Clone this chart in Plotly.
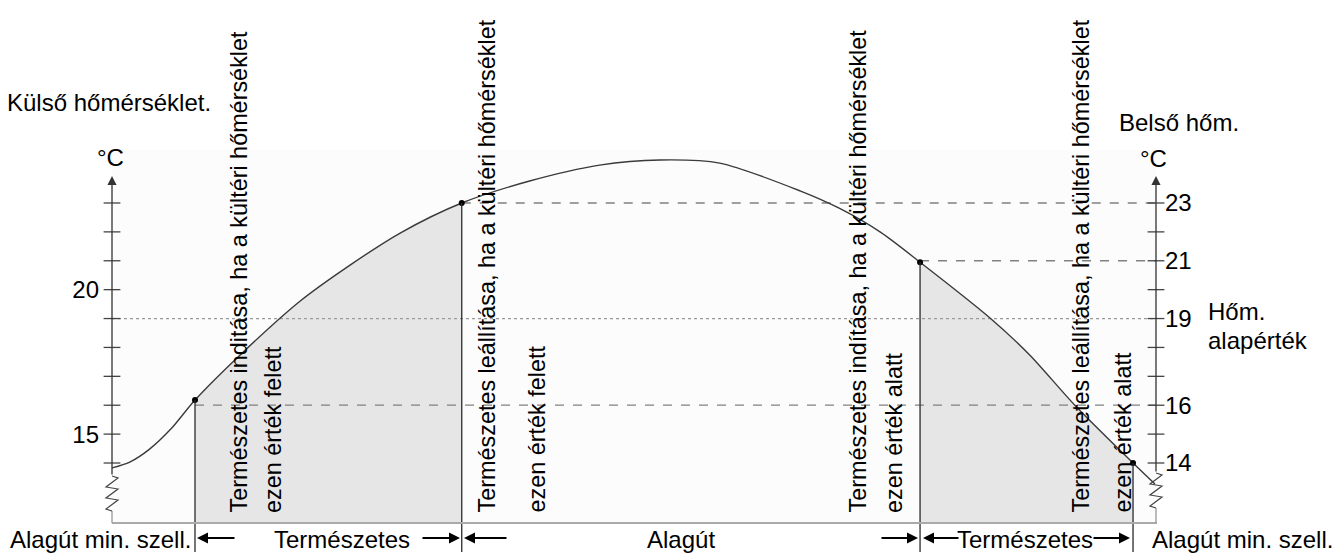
import plotly.graph_objects as go

# ---------------- data ----------------
# time axis is schematic (0..100), temperatures in °C
curve_x = [0.0, 1.7, 3.6, 5.7, 7.95, 12.3, 18.0, 22.8, 27.6, 33.5, 40.0, 46.7, 52.5, 58.2,
           65.9, 69.7, 73.6, 77.4, 84.1, 87.9, 92.2, 97.8, 99.9]
curve_y = [13.83, 14.03, 14.48, 15.2, 16.18, 17.75, 19.6, 20.85, 21.96, 23.0, 23.76, 24.31, 24.49,
           24.38, 23.42, 22.81, 21.99, 20.95, 19.02, 17.74, 16.01, 14.0, 13.27]
switch_idx = [4, 9, 17, 21]          # indices of the switching points on the curve
shade_pairs = [(0, 1), (2, 3)]       # natural ventilation periods (between switch points)
limit_vals = [16, 23, 21]            # dashed threshold lines (start at switch 0, 1, 2)
limit_from = [0, 1, 2]
setpoint = 19
left_ticks = [15, 20]
right_ticks = [14, 16, 19, 21, 23]
minor_ticks = list(range(14, 24))

vtexts = [
    "Természetes inditása, ha a kültéri hőmérséklet",
    "Természetes leállítása, ha a kültéri hőmérséklet",
    "Természetes indítása, ha a kültéri hőmérséklet",
    "Természetes leállítása, ha a kültéri hőmérséklet",
]
vtexts2 = ["ezen érték felett", "ezen érték felett", "ezen érték alatt", "ezen érték alatt"]
periods = ["Természetes", "Alagút", "Természetes"]

# ---------------- layout geometry ----------------
# the page body adds an 8px margin, so the figure is 8px smaller and all
# screen positions below are given in screen pixels of the final picture
OFF = 8
W, H = 1343 - OFF, 556 - OFF
L, R, T, B = 112, 1156, 150, 523          # plot area in screen pixels
XMIN, XMAX = 0.0, 100.0
PXU = 28.89
YMIN = 14 + (463 - B) / PXU
YMAX = 14 + (463 - T) / PXU
FONT = "Liberation Sans, Arial, sans-serif"
FS = 24
FSV = 23.4


def px_x(p):
    return (p - L) / (R - L)


def px_y(p):
    return (B - p) / (B - T)


def dx_paper(x):
    return (x - XMIN) / (XMAX - XMIN)


def dy_paper(y):
    return (y - YMIN) / (YMAX - YMIN)


def px_to_dx(p):
    return XMIN + (p - L) / (R - L) * (XMAX - XMIN)


sx = [curve_x[i] for i in switch_idx]
sy = [curve_y[i] for i in switch_idx]

fig = go.Figure()

# shaded natural-ventilation areas
for a, b in shade_pairs:
    i0, i1 = switch_idx[a], switch_idx[b]
    fig.add_trace(go.Scatter(x=curve_x[i0:i1 + 1], y=curve_y[i0:i1 + 1], mode="lines",
                             line=dict(width=0, shape="spline", smoothing=0.8), fill="tozeroy",
                             fillcolor="#e6e6e6", hoverinfo="skip", showlegend=False))

# setpoint dotted line
fig.add_trace(go.Scatter(x=[XMIN, XMAX], y=[setpoint, setpoint], mode="lines",
                         line=dict(color="#9a9a9a", width=1.3, dash="dot"),
                         showlegend=False, hoverinfo="skip"))
# threshold dashed lines
for v, f in zip(limit_vals, limit_from):
    fig.add_trace(go.Scatter(x=[sx[f], XMAX], y=[v, v], mode="lines",
                             line=dict(color="#808080", width=1.3, dash="dash"),
                             showlegend=False, hoverinfo="skip"))

# curve
fig.add_trace(go.Scatter(x=curve_x, y=curve_y, mode="lines",
                         line=dict(color="#3a3a3a", width=1.4, shape="spline", smoothing=0.8),
                         showlegend=False, hoverinfo="skip"))
# switch points
fig.add_trace(go.Scatter(x=sx, y=sy, mode="markers", marker=dict(color="black", size=6),
                         showlegend=False, hoverinfo="skip", cliponaxis=False))
# axis ticks (crossing marks)
for xv in [XMIN, XMAX]:
    fig.add_trace(go.Scatter(x=[xv] * len(minor_ticks), y=minor_ticks, mode="markers",
                             marker=dict(symbol="line-ew", size=12,
                                         line=dict(color="#444", width=1.3)),
                             showlegend=False, hoverinfo="skip", cliponaxis=False))

shapes = []
# vertical switch lines (from point down below the axis)
for x, y in zip(sx, sy):
    shapes.append(dict(type="line", xref="paper", yref="paper",
                       x0=dx_paper(x), x1=dx_paper(x), y0=px_y(552), y1=dy_paper(y),
                       line=dict(color="#2a2a2a", width=1.3)))
# bottom border and lower axis parts
shapes.append(dict(type="line", xref="paper", yref="paper", x0=0, x1=px_x(R + 1), y0=0, y1=0,
                   line=dict(color="#aaaaaa", width=2)))
shapes.append(dict(type="line", xref="paper", yref="paper", x0=0, x1=0, y0=0, y1=px_y(511),
                   line=dict(color="#999999", width=1.3)))
shapes.append(dict(type="line", xref="paper", yref="paper", x0=1, x1=1, y0=0, y1=px_y(508),
                   line=dict(color="#999999", width=1.3)))


def zigzag(cx, top):
    pts = [(cx, top), (cx + 6, top + 2), (cx - 6, top + 11), (cx + 6, top + 13),
           (cx - 6, top + 22), (cx + 6, top + 24), (cx - 6, top + 33), (cx, top + 35)]
    return "M " + " L ".join(f"{px_x(a):.5f},{px_y(b):.5f}" for a, b in pts)


for cx, top in [(L, 476), (R, 473)]:
    shapes.append(dict(type="path", xref="paper", yref="paper", path=zigzag(cx, top),
                       line=dict(color="#444", width=1.2)))

ann = []
# axis arrows (vertical axis lines with arrow heads)
for xv, bottom in [(XMIN, 476), (XMAX, 473)]:
    ann.append(dict(x=xv, y=14 + (463 - 176) / PXU, ax=xv, ay=14 + (463 - bottom) / PXU,
                    xref="x", yref="y", axref="x", ayref="y", text="", showarrow=True,
                    arrowhead=2, arrowsize=1.4, arrowwidth=1.3, arrowcolor="#333"))

# rotated texts
vt_x = [238.5, 486, 857, 1080]
vt2_x = [272.5, 536, 894, 1122.5]
for t, t2, a, b in zip(vtexts, vtexts2, vt_x, vt2_x):
    for txt, px in [(t, a), (t2, b)]:
        ann.append(dict(x=px_x(px), y=px_y(514), xref="paper", yref="paper", text=txt,
                        textangle=-90, showarrow=False, xanchor="center", yanchor="bottom",
                        borderpad=0,
                        font=dict(size=FSV, color="black", family=FONT)))

# bottom period labels
bl_y = px_y(539)
ann.append(dict(x=px_x(8), y=bl_y, xref="paper", yref="paper", text="Alagút min. szell.",
                showarrow=False, xanchor="left", yanchor="middle",
                font=dict(size=FS, color="black", family=FONT)))
ann.append(dict(x=px_x(1150), y=bl_y, xref="paper", yref="paper", text="Alagút min. szell.",
                showarrow=False, xanchor="left", yanchor="middle",
                font=dict(size=FS, color="black", family=FONT)))
for lbl, cpx in zip(periods, [342, 681, 1025]):
    ann.append(dict(x=px_x(cpx), y=bl_y, xref="paper", yref="paper", text=lbl,
                    showarrow=False, xanchor="center", yanchor="middle",
                    font=dict(size=FS, color="black", family=FONT)))
# period arrows: (head, tail) in px along the time axis
for head, tail in [(197, 236), (460, 421), (464, 508), (918, 880), (923, 960), (1130, 1092)]:
    ann.append(dict(x=px_to_dx(head), y=px_y(538), xref="x", yref="paper",
                    ax=px_to_dx(tail), ay=0, axref="x", ayref="pixel", text="",
                    showarrow=True, arrowhead=2, arrowsize=1.1, arrowwidth=2,
                    arrowcolor="black", standoff=0))

# axis titles etc.
for txt, px, py, xa in [("Külső hőmérséklet.", 5, 103, "left"), ("°C", 110, 157, "center"),
                        ("Belső hőm.", 1117, 123, "left"), ("°C", 1153, 158, "center"),
                        ("Hőm.", 1206, 311, "left"), ("alapérték", 1206, 340, "left")]:
    ann.append(dict(x=px_x(px), y=px_y(py), xref="paper", yref="paper", text=txt,
                    showarrow=False, xanchor=xa, yanchor="middle",
                    font=dict(size=FS, color="black", family=FONT)))

fig.update_layout(
    width=W, height=H,
    margin=dict(l=L - OFF, r=W - (R - OFF), t=T - OFF, b=H - (B - OFF), autoexpand=False),
    paper_bgcolor="white", plot_bgcolor="#fcfcfc",
    shapes=shapes, annotations=ann, showlegend=False,
    xaxis=dict(range=[XMIN, XMAX], showgrid=False, zeroline=False, showline=False,
               showticklabels=False, ticks="", automargin=False),
    yaxis=dict(range=[YMIN, YMAX], showgrid=False, zeroline=False, showline=False,
               tickvals=left_ticks, ticktext=[str(v) for v in left_ticks], ticks="",
               automargin=False, ticklabelstandoff=12,
               tickfont=dict(size=24, color="black", family=FONT)),
    yaxis2=dict(range=[YMIN, YMAX], overlaying="y", side="right", showgrid=False,
                zeroline=False, showline=False, tickvals=right_ticks, automargin=False,
                ticktext=[str(v) for v in right_ticks], ticks="", ticklabelstandoff=8,
                tickfont=dict(size=24, color="black", family=FONT)),
)
# invisible trace to activate the right axis
fig.add_trace(go.Scatter(x=[XMIN], y=[YMIN], yaxis="y2", mode="markers",
                         marker=dict(opacity=0), showlegend=False, hoverinfo="skip"))

fig.write_html("out.html")
